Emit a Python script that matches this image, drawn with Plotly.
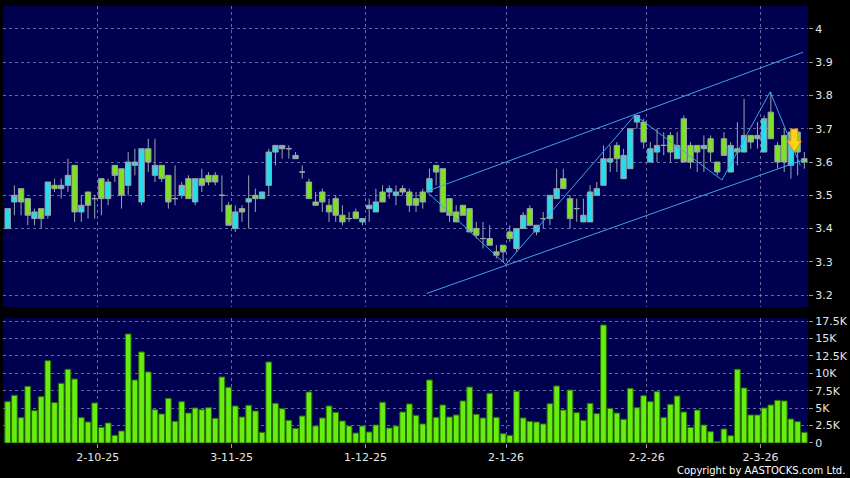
import plotly.graph_objects as go

# trading days shown on the chart (HK market), first to last
dates = [
    "2025-09-11", "2025-09-12", "2025-09-15", "2025-09-16", "2025-09-17", "2025-09-18", "2025-09-19",
    "2025-09-22", "2025-09-23", "2025-09-24", "2025-09-25", "2025-09-26", "2025-09-29", "2025-09-30",
    "2025-10-02", "2025-10-03", "2025-10-06", "2025-10-08", "2025-10-09", "2025-10-10", "2025-10-13",
    "2025-10-14", "2025-10-15", "2025-10-16", "2025-10-17", "2025-10-20", "2025-10-21", "2025-10-22",
    "2025-10-23", "2025-10-24", "2025-10-27", "2025-10-28", "2025-10-30", "2025-10-31",
    "2025-11-03", "2025-11-04", "2025-11-05", "2025-11-06", "2025-11-07", "2025-11-10", "2025-11-11",
    "2025-11-12", "2025-11-13", "2025-11-14", "2025-11-17", "2025-11-18", "2025-11-19", "2025-11-20",
    "2025-11-21", "2025-11-24", "2025-11-25", "2025-11-26", "2025-11-27", "2025-11-28",
    "2025-12-01", "2025-12-02", "2025-12-03", "2025-12-04", "2025-12-05", "2025-12-08", "2025-12-09",
    "2025-12-10", "2025-12-11", "2025-12-12", "2025-12-15", "2025-12-16", "2025-12-17", "2025-12-18",
    "2025-12-19", "2025-12-22", "2025-12-23", "2025-12-24", "2025-12-29", "2025-12-30", "2025-12-31",
    "2026-01-02", "2026-01-05", "2026-01-06", "2026-01-07", "2026-01-08", "2026-01-09", "2026-01-12",
    "2026-01-13", "2026-01-14", "2026-01-15", "2026-01-16", "2026-01-19", "2026-01-20", "2026-01-21",
    "2026-01-22", "2026-01-23", "2026-01-26", "2026-01-27", "2026-01-28", "2026-01-29", "2026-01-30",
    "2026-02-02", "2026-02-03", "2026-02-04", "2026-02-05", "2026-02-06", "2026-02-09", "2026-02-10",
    "2026-02-11", "2026-02-12", "2026-02-13", "2026-02-16", "2026-02-20", "2026-02-23", "2026-02-24",
    "2026-02-25", "2026-02-26", "2026-02-27",
    "2026-03-02", "2026-03-03", "2026-03-04", "2026-03-05", "2026-03-06", "2026-03-09", "2026-03-10",
]

opens = [
    3.40, 3.48, 3.52, 3.49, 3.43, 3.46, 3.44, 3.53, 3.52, 3.53, 3.59, 3.45, 3.51, 3.49, 3.55, 3.49,
    3.59, 3.58, 3.53, 3.59, 3.48, 3.64, 3.56, 3.59, 3.56, 3.49, 3.50, 3.55, 3.48, 3.55, 3.56, 3.56,
    3.50, 3.47, 3.40, 3.46, 3.48, 3.50, 3.49, 3.53, 3.63, 3.64, 3.64, 3.61, 3.57, 3.54, 3.48, 3.51,
    3.47, 3.49, 3.44, 3.43, 3.45, 3.42, 3.46, 3.45, 3.51, 3.51, 3.50, 3.52, 3.51, 3.49, 3.51, 3.51,
    3.59, 3.58, 3.49, 3.45, 3.47, 3.46, 3.40, 3.37, 3.37, 3.33, 3.35, 3.39, 3.34, 3.40, 3.46, 3.39,
    3.43, 3.43, 3.49, 3.55, 3.49, 3.46, 3.42, 3.42, 3.50, 3.53, 3.60, 3.65, 3.55, 3.58, 3.72, 3.72,
    3.60, 3.63, 3.65, 3.68, 3.61, 3.73, 3.65, 3.65, 3.64, 3.67, 3.60, 3.67, 3.57, 3.64, 3.63, 3.68,
    3.67, 3.63, 3.75, 3.65, 3.68, 3.59, 3.69, 3.61,
]
highs = [
    3.46, 3.53, 3.52, 3.49, 3.46, 3.46, 3.54, 3.55, 3.55, 3.61, 3.59, 3.50, 3.51, 3.50, 3.55, 3.55,
    3.59, 3.58, 3.63, 3.64, 3.64, 3.67, 3.67, 3.59, 3.56, 3.59, 3.54, 3.56, 3.55, 3.58, 3.57, 3.57,
    3.56, 3.48, 3.47, 3.47, 3.56, 3.52, 3.51, 3.64, 3.65, 3.65, 3.65, 3.63, 3.59, 3.55, 3.51, 3.52,
    3.49, 3.50, 3.47, 3.45, 3.46, 3.43, 3.49, 3.52, 3.53, 3.53, 3.53, 3.53, 3.52, 3.51, 3.52, 3.58,
    3.59, 3.58, 3.49, 3.47, 3.47, 3.46, 3.42, 3.42, 3.41, 3.35, 3.35, 3.41, 3.40, 3.45, 3.47, 3.41,
    3.45, 3.50, 3.58, 3.58, 3.50, 3.49, 3.49, 3.53, 3.54, 3.65, 3.65, 3.66, 3.64, 3.70, 3.74, 3.73,
    3.66, 3.70, 3.69, 3.69, 3.69, 3.74, 3.66, 3.65, 3.68, 3.68, 3.60, 3.69, 3.66, 3.72, 3.79, 3.68,
    3.72, 3.74, 3.81, 3.66, 3.70, 3.69, 3.69, 3.63,
]
lows = [
    3.40, 3.44, 3.44, 3.41, 3.41, 3.40, 3.43, 3.51, 3.49, 3.51, 3.42, 3.42, 3.43, 3.43, 3.44, 3.47,
    3.54, 3.46, 3.50, 3.56, 3.47, 3.57, 3.54, 3.54, 3.46, 3.47, 3.49, 3.49, 3.47, 3.51, 3.53, 3.53,
    3.45, 3.41, 3.39, 3.42, 3.40, 3.45, 3.49, 3.50, 3.59, 3.61, 3.61, 3.61, 3.55, 3.49, 3.47, 3.45,
    3.42, 3.42, 3.41, 3.42, 3.43, 3.41, 3.42, 3.45, 3.48, 3.49, 3.47, 3.50, 3.45, 3.45, 3.46, 3.51,
    3.53, 3.45, 3.42, 3.42, 3.44, 3.39, 3.37, 3.34, 3.35, 3.31, 3.30, 3.36, 3.33, 3.40, 3.41, 3.38,
    3.40, 3.41, 3.49, 3.52, 3.40, 3.42, 3.42, 3.42, 3.50, 3.53, 3.57, 3.57, 3.55, 3.58, 3.70, 3.64,
    3.60, 3.60, 3.62, 3.60, 3.61, 3.60, 3.58, 3.57, 3.57, 3.60, 3.56, 3.62, 3.57, 3.59, 3.63, 3.64,
    3.64, 3.63, 3.67, 3.58, 3.57, 3.55, 3.56, 3.58,
]
closes = [
    3.46, 3.50, 3.48, 3.44, 3.45, 3.43, 3.54, 3.52, 3.53, 3.56, 3.45, 3.47, 3.47, 3.49, 3.49, 3.54,
    3.56, 3.50, 3.60, 3.60, 3.64, 3.60, 3.59, 3.55, 3.48, 3.49, 3.53, 3.49, 3.55, 3.53, 3.54, 3.54,
    3.50, 3.41, 3.45, 3.45, 3.49, 3.49, 3.51, 3.63, 3.65, 3.65, 3.64, 3.62, 3.57, 3.49, 3.47, 3.48,
    3.45, 3.44, 3.42, 3.43, 3.43, 3.43, 3.47, 3.48, 3.48, 3.52, 3.51, 3.51, 3.47, 3.47, 3.48, 3.55,
    3.57, 3.45, 3.44, 3.42, 3.44, 3.39, 3.38, 3.37, 3.35, 3.32, 3.33, 3.37, 3.40, 3.44, 3.41, 3.41,
    3.43, 3.50, 3.52, 3.52, 3.43, 3.46, 3.44, 3.51, 3.52, 3.61, 3.61, 3.61, 3.62, 3.70, 3.74, 3.66,
    3.64, 3.65, 3.65, 3.63, 3.65, 3.60, 3.60, 3.63, 3.65, 3.63, 3.57, 3.62, 3.65, 3.63, 3.68, 3.66,
    3.68, 3.73, 3.67, 3.60, 3.60, 3.69, 3.63, 3.60,
]
# volume in thousands of shares
volumes_k = [
    5.93, 6.84, 3.64, 8.13, 4.64, 6.65, 11.8, 5.79, 8.56, 10.57, 9.18, 3.64, 3.01, 5.74, 2.25, 2.87,
    1.10, 1.72, 15.64, 9.04, 13.06, 10.19, 4.78, 4.16, 6.41, 3.11, 5.93, 4.30, 5.02, 4.78, 5.07, 3.54,
    9.47, 7.99, 5.31, 3.73, 5.41, 4.59, 1.53, 11.62, 5.69, 4.92, 3.25, 2.10, 3.87, 7.32, 2.44, 3.59,
    5.31, 4.40, 3.16, 2.44, 1.43, 2.44, 1.58, 2.58, 5.84, 2.15, 2.44, 4.45, 5.60, 3.97, 2.73, 9.04,
    3.68, 5.45, 3.73, 4.02, 6.03, 8.03, 4.11, 3.59, 7.13, 3.68, 1.34, 1.10, 7.41, 3.59, 3.11, 3.01,
    2.73, 5.64, 8.18, 4.73, 7.60, 4.35, 3.25, 5.69, 4.21, 16.93, 4.97, 4.30, 3.40, 7.84, 5.07, 6.79,
    5.93, 7.36, 3.64, 5.55, 6.74, 4.45, 2.25, 4.73, 2.58, 1.62, 0.19, 2.01, 1.05, 10.57, 7.89, 4.02,
    4.02, 5.02, 5.45, 6.12, 6.03, 3.44, 3.06, 1.53,
]

# drawn trend lines (bar index, price)
zigzag_idx = [62.6, 74.4, 93.7, 106.7, 113.9, 118.4]
zigzag_px = [3.511, 3.292, 3.741, 3.546, 3.811, 3.590]
channel_idx = [62.6, 118.8]
channel_upper = [3.512, 3.930]
channel_lower = [3.205, 3.606]
# sell-signal arrow: bar index and price at its tip
signal_idx = 117.5
signal_px = 3.63

price_ticks = [3.2, 3.3, 3.4, 3.5, 3.6, 3.7, 3.8, 3.9, 4.0]
vol_ticks = [0, 2.5, 5, 7.5, 10, 12.5, 15, 17.5]
vol_tick_text = ["0", "2.5K", "5K", "7.5K", "10K", "12.5K", "15K", "17.5K"]

x = list(range(len(dates)))

# month boundaries -> grid lines / labels like "2-10-25"
month_pos = []
month_text = []
for i in range(1, len(dates)):
    if dates[i][5:7] != dates[i - 1][5:7]:
        y, m, d = dates[i].split("-")
        month_pos.append(i - 0.55)
        month_text.append(f"{int(d)}-{int(m)}-{y[2:]}")

GREEN = "#7ce41c"
CYAN = "#26dcee"
GRID = "rgba(140,140,185,0.75)"
TXT = "#e6e6e6"

fig = go.Figure()

fig.add_trace(go.Candlestick(
    x=x, open=opens, high=highs, low=lows, close=closes,
    increasing=dict(fillcolor=CYAN, line=dict(color="#9aa6aa", width=1)),
    decreasing=dict(fillcolor=GREEN, line=dict(color="#9aa6aa", width=1)),
    whiskerwidth=0, xaxis="x", yaxis="y", showlegend=False, hoverinfo="skip",
))

line_style = dict(color="#3fa2e6", width=1)
fig.add_trace(go.Scatter(x=channel_idx, y=channel_upper, mode="lines", line=line_style,
                         xaxis="x", yaxis="y", showlegend=False, hoverinfo="skip"))
fig.add_trace(go.Scatter(x=channel_idx, y=channel_lower, mode="lines", line=line_style,
                         xaxis="x", yaxis="y", showlegend=False, hoverinfo="skip"))
fig.add_trace(go.Scatter(x=zigzag_idx, y=zigzag_px, mode="lines", line=line_style,
                         xaxis="x", yaxis="y", showlegend=False, hoverinfo="skip"))

fig.add_trace(go.Bar(
    x=x, y=volumes_k, marker=dict(color="#66ee10", line=dict(color="#2c6e00", width=1)),
    xaxis="x2", yaxis="y2", showlegend=False, hoverinfo="skip",
))

# block arrow pointing down, sized in pixels around its tip
arrow_path = "M0,0 L-7,11 L-3.5,11 L-3.5,23 L3.5,23 L3.5,11 L7,11 Z"
fig.add_shape(
    type="path", path=arrow_path, xref="x", yref="y",
    xsizemode="pixel", ysizemode="pixel", xanchor=signal_idx, yanchor=signal_px,
    fillcolor="#ffd21e", line=dict(color="#e89400", width=1), layer="above",
)

xrange = [-0.7, len(dates) - 0.45]
common_x = dict(
    range=xrange, tickmode="array", tickvals=month_pos, showgrid=True, gridcolor=GRID,
    griddash="3px,3px", gridwidth=1, zeroline=False, showline=False, fixedrange=True,
    automargin=False,
)

fig.update_layout(
    width=850, height=478,
    margin=dict(l=3, r=42, t=6, b=35),
    paper_bgcolor="#000000", plot_bgcolor="#000050",
    font=dict(family="DejaVu Sans", size=11, color=TXT),
    bargap=0.15, boxgap=0.2, boxgroupgap=0,
    xaxis=dict(common_x, domain=[0, 1], anchor="y", showticklabels=False, ticks="",
               rangeslider=dict(visible=False)),
    xaxis2=dict(common_x, domain=[0, 1], anchor="y2", ticktext=month_text, ticks="outside",
                ticklen=4, tickcolor="#9a9a9a", tickfont=dict(size=11, color=TXT)),
    yaxis=dict(domain=[0.311, 1], range=[3.164, 4.069], side="right", tickvals=price_ticks,
               ticktext=[f"{v:g}" for v in price_ticks], ticks="outside", ticklen=4,
               tickcolor="#9a9a9a", showgrid=True, gridcolor=GRID, griddash="3px,3px",
               zeroline=False, showline=False, automargin=False, fixedrange=True),
    yaxis2=dict(domain=[0, 0.286], range=[0, 17.93], side="right", tickvals=vol_ticks,
                ticktext=vol_tick_text, ticks="outside", ticklen=4, tickcolor="#9a9a9a",
                showgrid=True, gridcolor=GRID, griddash="3px,3px", zeroline=False,
                showline=False, automargin=False, fixedrange=True),
    annotations=[dict(
        text="Copyright by AASTOCKS.com Ltd.", xref="paper", yref="paper",
        x=1.048, y=-0.064, xanchor="right", yanchor="middle", showarrow=False,
        font=dict(family="DejaVu Sans", size=10, color="#ffffff"),
    )],
)

# page body has an 8px default margin; drop it so the figure sits at 0,0
fig.write_html("out.html", config={"displayModeBar": False},
               post_script="document.body.style.margin='0';")
